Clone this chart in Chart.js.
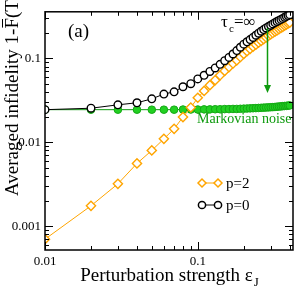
<!DOCTYPE html>
<html>
<head>
<meta charset="utf-8">
<script src="https://cdn.jsdelivr.net/npm/chart.js@4.4.1/dist/chart.umd.min.js"></script>
<style>
  body { margin: 0; background: #fff; }
  #wrap { width: 299px; height: 292px; position: relative; }
</style>
</head>
<body>
<div id="wrap"><canvas id="infChart"></canvas></div>
<script>
const eps = [
  0.01, 0.02, 0.03, 0.04, 0.05, 0.06, 0.07, 0.08, 0.09, 0.10,
  0.11, 0.12, 0.13, 0.14, 0.15, 0.16, 0.17, 0.18, 0.19, 0.20,
  0.21, 0.22, 0.23, 0.24, 0.25, 0.26, 0.27, 0.28, 0.29, 0.30,
  0.31, 0.32, 0.33, 0.34, 0.35, 0.36, 0.37, 0.38, 0.39, 0.40,
];
const p0 = [
  0.0245, 0.0255, 0.028, 0.0296, 0.033, 0.0376, 0.040, 0.046, 0.050, 0.057,
  0.063, 0.070, 0.077, 0.085, 0.094, 0.103, 0.113, 0.124, 0.136, 0.148,
  0.158, 0.168, 0.178, 0.189, 0.200, 0.211, 0.221, 0.231, 0.240, 0.249,
  0.258, 0.267, 0.276, 0.284, 0.292, 0.300, 0.309, 0.317, 0.325, 0.333,
];
const p2 = [
  0.0007, 0.00175, 0.0032, 0.0056, 0.0080, 0.0110, 0.0145, 0.020, 0.026, 0.034,
  0.041, 0.048, 0.055, 0.063, 0.071, 0.079, 0.087, 0.095, 0.104, 0.113,
  0.122, 0.130, 0.138, 0.146, 0.154, 0.162, 0.170, 0.178, 0.186, 0.194,
  0.201, 0.209, 0.216, 0.224, 0.231, 0.238, 0.246, 0.253, 0.261, 0.268,
];
const markov = [
  0.0245, 0.0245, 0.0245, 0.0245, 0.0245, 0.0245, 0.0245, 0.0246, 0.0246, 0.0246,
  0.0247, 0.0247, 0.0248, 0.0248, 0.0249, 0.0249, 0.0250, 0.0250, 0.0251, 0.0252,
  0.0253, 0.0254, 0.0255, 0.0256, 0.0257, 0.0258, 0.0259, 0.0260, 0.0261, 0.0262,
  0.0263, 0.0264, 0.0266, 0.0267, 0.0268, 0.0270, 0.0271, 0.0272, 0.0274, 0.0275,
];
const xTickLabels = ["0.01", "0.1"];
const yTickLabels = ["0.001", "0.01", "0.1"];

const serif = '"Liberation Serif", "DejaVu Serif", serif';
const orange = "#ffa500";
const green = "#0e9a0e";

// 1..9 x decade, for the log minor ticks
function decadeTicks(decades, lo, hi) {
  const out = [];
  decades.forEach(d => {
    for (let k = 1; k <= 9; k++) {
      const v = parseFloat((k * d).toPrecision(3));
      if (v >= lo && v <= hi) out.push(v);
    }
  });
  return out;
}
const xTicks = decadeTicks([0.01, 0.1], 0.01, 0.42);
const yTicks = decadeTicks([0.0001, 0.001, 0.01, 0.1], 0.00052, 0.36);

const pts = arr => eps.map((x, i) => ({ x: x, y: arr[i] }));

// frame, inward ticks, legend and the text
const decor = {
  id: "decor",
  afterDatasetsDraw(chart) {
    const ctx = chart.ctx;
    const ca = chart.chartArea;
    const sx = chart.scales.x, sy = chart.scales.y;
    ctx.save();
    ctx.strokeStyle = "#000";
    ctx.lineWidth = 1.5;
    ctx.strokeRect(ca.left, ca.top, ca.right - ca.left, ca.bottom - ca.top);

    ctx.lineWidth = 1;
    ctx.beginPath();
    sx.ticks.forEach(t => {
      const px = Math.round(sx.getPixelForValue(t.value)) + 0.5;
      const len = xTickLabels.includes(String(t.value)) ? 8 : 4;
      ctx.moveTo(px, ca.bottom); ctx.lineTo(px, ca.bottom - len);
      ctx.moveTo(px, ca.top); ctx.lineTo(px, ca.top + len);
    });
    sy.ticks.forEach(t => {
      const py = Math.round(sy.getPixelForValue(t.value)) + 0.5;
      const len = yTickLabels.includes(String(t.value)) ? 8 : 4;
      ctx.moveTo(ca.left, py); ctx.lineTo(ca.left + len, py);
      ctx.moveTo(ca.right, py); ctx.lineTo(ca.right - len, py);
    });
    ctx.stroke();

    // legend
    ctx.lineWidth = 1;
    ctx.strokeStyle = orange;
    ctx.beginPath(); ctx.moveTo(202, 183); ctx.lineTo(218, 183); ctx.stroke();
    [202, 218].forEach(x => {
      ctx.beginPath();
      ctx.moveTo(x - 4, 183); ctx.lineTo(x, 179); ctx.lineTo(x + 4, 183); ctx.lineTo(x, 187);
      ctx.closePath();
      ctx.fillStyle = "#fff"; ctx.fill();
      ctx.lineWidth = 1.5; ctx.stroke();
    });
    ctx.strokeStyle = "#000";
    ctx.lineWidth = 1;
    ctx.beginPath(); ctx.moveTo(202, 205); ctx.lineTo(218, 205); ctx.stroke();
    [202, 218].forEach(x => {
      ctx.beginPath(); ctx.arc(x, 205, 3.6, 0, Math.PI * 2);
      ctx.fillStyle = "#fff"; ctx.fill();
      ctx.lineWidth = 1.5; ctx.stroke();
    });
    ctx.fillStyle = "#000";
    ctx.font = "15px " + serif;
    ctx.textBaseline = "alphabetic";
    ctx.fillText("p=2", 226, 188);
    ctx.fillText("p=0", 226, 210);

    // annotations
    ctx.font = "19px " + serif;
    ctx.fillText("(a)", 68, 37);
    ctx.font = "17px " + serif;
    ctx.fillText("\u03c4", 221, 27);
    ctx.font = "11px " + serif;
    ctx.fillText("c", 229, 32);
    ctx.font = "17px " + serif;
    ctx.fillText("=\u221e", 234, 27);

    ctx.strokeStyle = green;
    ctx.fillStyle = green;
    ctx.lineWidth = 1.5;
    ctx.beginPath(); ctx.moveTo(267.5, 28); ctx.lineTo(267.5, 86); ctx.stroke();
    ctx.beginPath();
    ctx.moveTo(264, 85); ctx.lineTo(271, 85); ctx.lineTo(267.5, 93);
    ctx.closePath(); ctx.fill();
    ctx.font = "14px " + serif;
    ctx.fillText("Markovian noise", 197, 123);

    // x title with subscript J
    ctx.fillStyle = "#000";
    ctx.font = "19px " + serif;
    const main = "Perturbation strength \u03b5";
    const w1 = ctx.measureText(main).width;
    ctx.font = "13px " + serif;
    const w2 = ctx.measureText("J").width;
    const x0 = (ca.left + ca.right) / 2 - (w1 + w2) / 2;
    ctx.font = "19px " + serif;
    ctx.fillText(main, x0, 281);
    ctx.font = "13px " + serif;
    ctx.fillText("J", x0 + w1 + 1, 286);

    // y title, rotated, with bar over F
    ctx.translate(18, 196);
    ctx.rotate(-Math.PI / 2);
    ctx.font = "19px " + serif;
    const a = "Averaged infidelity 1-";
    const wa = ctx.measureText(a).width;
    const wf = ctx.measureText("F").width;
    ctx.fillText(a, 0, 0);
    ctx.fillText("F", wa, 0);
    ctx.fillText("(T)", wa + wf, 0);
    ctx.lineWidth = 1;
    ctx.strokeStyle = "#000";
    ctx.beginPath(); ctx.moveTo(wa + 1, -15.5); ctx.lineTo(wa + wf - 1, -15.5); ctx.stroke();
    ctx.restore();
  },
};

new Chart(document.getElementById("infChart"), {
  type: "line",
  data: {
    datasets: [
      {
        label: "p=0",
        data: pts(p0),
        borderColor: "#000",
        borderWidth: 1,
        pointStyle: "circle",
        pointRadius: 3.8,
        pointBorderWidth: 1.4,
        pointBackgroundColor: "#fff",
        pointBorderColor: "#000",
        order: 0,
      },
      {
        label: "p=2",
        data: pts(p2),
        borderColor: orange,
        borderWidth: 1,
        pointStyle: "rectRot",
        pointRadius: 4.6,
        pointBorderWidth: 1.4,
        pointBackgroundColor: "#fff",
        pointBorderColor: orange,
        order: 1,
      },
      {
        label: "Markovian noise",
        data: pts(markov),
        borderColor: green,
        borderWidth: 1,
        pointStyle: "circle",
        pointRadius: 3.8,
        pointBorderWidth: 1,
        pointBackgroundColor: "#22d022",
        pointBorderColor: "#13a813",
        order: 2,
      },
    ],
  },
  options: {
    responsive: true,
    maintainAspectRatio: false,
    animation: false,
    layout: { padding: { top: 5, right: 3, left: 0, bottom: 0 } },
    plugins: { legend: { display: false }, tooltip: { enabled: false } },
    scales: {
      x: {
        type: "logarithmic",
        min: 0.01,
        max: 0.42,
        afterBuildTicks: s => { s.ticks = xTicks.map(v => ({ value: v })); },
        afterFit: s => { s.height = 42; },
        grid: { drawOnChartArea: false, drawTicks: false, display: false },
        border: { display: false },
        ticks: {
          autoSkip: false,
          maxRotation: 0,
          padding: 4,
          color: "#000",
          font: { family: serif, size: 13 },
          callback: v => (xTickLabels.includes(String(v)) ? String(v) : ""),
        },
      },
      y: {
        type: "logarithmic",
        min: 0.00052,
        max: 0.36,
        afterBuildTicks: s => { s.ticks = yTicks.map(v => ({ value: v })); },
        afterFit: s => { s.width = 45; },
        grid: { drawOnChartArea: false, drawTicks: false, display: false },
        border: { display: false },
        ticks: {
          autoSkip: false,
          padding: 4,
          color: "#000",
          font: { family: serif, size: 13 },
          callback: v => (yTickLabels.includes(String(v)) ? String(v) : ""),
        },
      },
    },
  },
  plugins: [decor],
});
</script>
</body>
</html>
